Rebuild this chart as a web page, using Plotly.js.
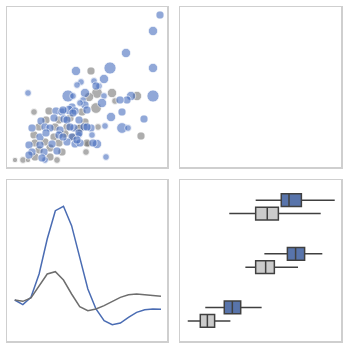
<!DOCTYPE html>
<html>
<head>
<meta charset="utf-8">
<script src="https://cdn.plot.ly/plotly-3.0.1.min.js"></script>
<style>html,body{margin:0;padding:0;background:#fff;}#chart{width:348px;height:348px;}</style>
</head>
<body>
<div id="chart"></div>
<script>
// ---- Scatter (top-left) ----
const blueX = [153,146,119,146,103,69,97,87,74,92,21,61,78,146,124,97,120,95,76,115,104,137,115,121,84,98,85,72,99,90,38,70,89,113,65,78,73,66,
  49,55,62,68,80,34,47,57,72,25,38,43,53,67,77,33,39,52,65,72,22,33,45,60,68,73,25,37,50,22,35,56,66,60,63,80,56,70,86];
const blueY = [152,136,114,99,99,96,88,86,85,81,74,71,74,71,71,71,67,64,67,55,50,48,39,39,39,41,32,32,10,23,7,82,81,67,60,62,64,71,
  56,55,57,56,57,46,49,48,47,39,40,39,37,39,40,30,34,32,30,34,22,22,23,25,23,24,15,15,16,12,9,57,54,47,40,40,30,27,24];
const blueS = [6,7,7,7,9,7,7,5,5,5,5,9,7,9,7,5,6,7,5,6,7,6,8,5,6,5,5,5,5,7,5,5,6,6,6,6,5,5,
  6,6,7,6,6,6,6,6,6,6,6,6,6,6,6,6,6,6,6,6,6,6,6,6,6,6,6,6,6,6,6,6,6,6,6,6,6,6,6];
const grayX = [84,90,105,82,108,130,89,72,91,134,27,8,16,21,50,79,81,42,75,39,52,63,78,32,48,60,27,47,58,28,38,52,32,43,55,28,43,73,66,80];
const grayY = [96,74,74,70,66,71,59,38,40,31,55,7,7,7,7,15,23,56,55,47,47,49,45,40,40,40,32,30,33,24,25,24,17,19,15,10,10,39,30,24];
const grayS = [6,8,7,7,5,7,8,7,5,6,5,4,5,4,5,5,5,6,6,6,6,6,6,6,6,6,6,6,6,6,6,6,6,6,6,6,6,6,6,6];

// ---- Lines (bottom-left) ----
const lineX = [0,1,2,3,4,5,6,7,8,9,10,11,12,13,14,15,16,17,18];
const lineBlue = [0.82,0.68,0.90,1.60,2.65,3.50,3.63,3.05,2.10,1.15,0.55,0.20,0.08,0.13,0.30,0.45,0.53,0.55,0.54];
const lineGray = [0.82,0.78,0.88,1.25,1.60,1.67,1.42,1.00,0.62,0.50,0.55,0.65,0.78,0.90,0.98,1.00,0.98,0.95,0.93];

// ---- Boxes (bottom-right) ----
const boxCats = ['a','b','c'];
const blueQ1 = [6.29,6.67,2.75], blueMed = [6.77,7.18,3.25], blueQ3 = [7.54,7.74,3.77];
const blueLo = [4.70,5.24,1.57], blueHi = [9.61,8.84,5.07];
const grayQ1 = [4.70,4.70,1.26], grayMed = [5.42,5.32,1.70], grayQ3 = [6.11,5.86,2.15];
const grayLo = [3.06,4.06,0.48], grayHi = [8.74,7.33,3.13];

const BLUE = 'rgba(72,110,190,0.85)';
const GRAY = 'rgba(110,110,110,0.8)';
const SIZE_SCALE = 1.35;

const traces = [
  {type:'scatter', mode:'markers', x:grayX, y:grayY, xaxis:'x', yaxis:'y',
   marker:{size:grayS.map(s=>s*SIZE_SCALE), color:GRAY, line:{color:'#ffffff', width:0.8}}, hoverinfo:'skip'},
  {type:'scatter', mode:'markers', x:blueX, y:blueY, xaxis:'x', yaxis:'y',
   marker:{size:blueS.map(s=>s*SIZE_SCALE), color:BLUE, line:{color:'#ffffff', width:0.8}}, hoverinfo:'skip'},
  {type:'scatter', mode:'markers', x:[], y:[], xaxis:'x2', yaxis:'y2', hoverinfo:'skip'},
  {type:'scatter', mode:'lines', x:lineX, y:lineBlue, xaxis:'x3', yaxis:'y3',
   line:{color:'#4a6cb3', width:1.5}},
  {type:'scatter', mode:'lines', x:lineX, y:lineGray, xaxis:'x3', yaxis:'y3',
   line:{color:'#6e6e6e', width:1.5}},
  {type:'box', orientation:'h', y:boxCats, q1:blueQ1, median:blueMed, q3:blueQ3,
   lowerfence:blueLo, upperfence:blueHi, xaxis:'x4', yaxis:'y4',
   fillcolor:'#5874ab', line:{color:'#404040', width:1.5}, whiskerwidth:0, boxpoints:false},
  {type:'box', orientation:'h', y:boxCats, q1:grayQ1, median:grayMed, q3:grayQ3,
   lowerfence:grayLo, upperfence:grayHi, xaxis:'x4', yaxis:'y4',
   fillcolor:'#cbcbcb', line:{color:'#404040', width:1.5}, whiskerwidth:0, boxpoints:false}
];

function ax(domain, range, extra) {
  return Object.assign({domain:domain, range:range, showgrid:false, zeroline:false,
    showticklabels:false, ticks:'', showline:true, mirror:true,
    linecolor:'#cfcfcf', linewidth:1.5, fixedrange:true}, extra||{});
}
const L = [7/348, 167/348], R = [180/348, 341/348];
const T = [1-167/348, 1-7/348], B = [1-341/348, 1-180/348];

const layout = {
  width:348, height:348, margin:{l:0,r:0,t:0,b:0},
  paper_bgcolor:'#ffffff', plot_bgcolor:'#ffffff', showlegend:false,
  boxmode:'group', boxgap:0.5, boxgroupgap:0.05,
  xaxis: ax(L,[0,160],{anchor:'y'}),
  yaxis: ax(T,[0,160],{anchor:'x'}),
  xaxis2: ax(R,[0,1],{anchor:'y2'}),
  yaxis2: ax(T,[0,1],{anchor:'x2'}),
  xaxis3: ax(L,[-0.95,18.74],{anchor:'y3'}),
  yaxis3: ax(B,[-0.41,4.42],{anchor:'x3'}),
  xaxis4: ax(R,[0,10],{anchor:'y4'}),
  yaxis4: ax(B,[2.5,-0.5],{anchor:'x4', type:'category'})
};

Plotly.newPlot('chart', traces, layout, {staticPlot:true, displayModeBar:false});
</script>
</body>
</html>
